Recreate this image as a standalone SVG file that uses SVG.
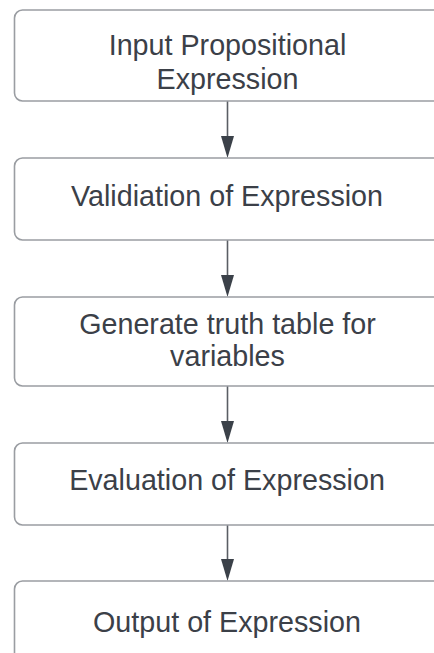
<svg xmlns="http://www.w3.org/2000/svg" width="434" height="653" viewBox="0 0 434 653">
<style>
.box{fill:#ffffff;stroke:#9a9da2;stroke-width:1.6}
.lbl{font-family:"Liberation Sans",Arial,sans-serif;font-size:28.7px;fill:#3b4048;text-anchor:middle}
.conn{stroke:#5a5e64;stroke-width:1.6;fill:none}
.head{fill:#3b4149}
</style>
<rect width="434" height="653" fill="#ffffff"/>
<g id="connectors">
<line class="conn" x1="227.5" y1="101" x2="227.5" y2="140"/>
<path class="head" d="M221 136 L234 136 L227.5 158 Z"/>
<line class="conn" x1="227.5" y1="240" x2="227.5" y2="279"/>
<path class="head" d="M221 275 L234 275 L227.5 297 Z"/>
<line class="conn" x1="227.5" y1="386" x2="227.5" y2="425"/>
<path class="head" d="M221 421 L234 421 L227.5 443 Z"/>
<line class="conn" x1="227.5" y1="525" x2="227.5" y2="563"/>
<path class="head" d="M221 559 L234 559 L227.5 581 Z"/>
</g>
<g id="node1">
<rect class="box" x="14.5" y="10" width="428" height="91" rx="8"/>
<text class="lbl" x="227.5" y="55">Input Propositional</text>
<text class="lbl" x="227.5" y="89">Expression</text>
</g>
<g id="node2">
<rect class="box" x="14.5" y="158" width="428" height="82" rx="8"/>
<text class="lbl" x="227" y="206">Validiation of Expression</text>
</g>
<g id="node3">
<rect class="box" x="14.5" y="297" width="428" height="89" rx="8"/>
<text class="lbl" x="227.5" y="334">Generate truth table for</text>
<text class="lbl" x="227.5" y="366">variables</text>
</g>
<g id="node4">
<rect class="box" x="14.5" y="443" width="428" height="82" rx="8"/>
<text class="lbl" x="227" y="490">Evaluation of Expression</text>
</g>
<g id="node5">
<rect class="box" x="14.5" y="581" width="428" height="90" rx="8"/>
<text class="lbl" x="227" y="632">Output of Expression</text>
</g>
</svg>
